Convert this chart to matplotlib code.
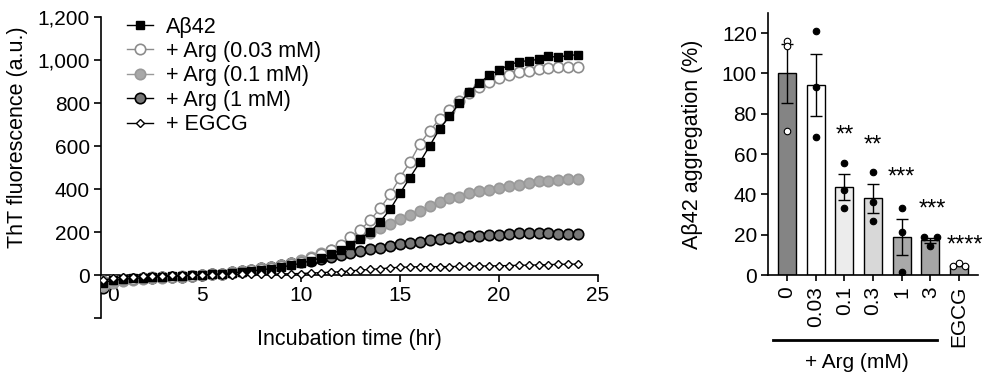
import numpy as np
import matplotlib
matplotlib.use("Agg")
import matplotlib.pyplot as plt
import matplotlib.transforms as mtransforms

plt.rcParams["font.family"] = ["Liberation Sans", "DejaVu Sans"]

# ---- kinetics data (ThT fluorescence, a.u.), every 0.5 hr ----
time_hr = np.arange(0, 24.5, 0.5)

abeta42 = [-35, -25, -20, -16, -13, -10, -8, -6, -4, -2, 0, 3, 6, 10, 14, 19, 24, 30, 37, 45,
           55, 66, 80, 96, 116, 140, 168, 201, 248, 305, 380, 453, 524, 601, 679, 739, 798,
           852, 891, 930, 953, 977, 992, 997, 1003, 1018, 1012, 1023, 1023]
arg_003 = [-30, -25, -20, -17, -14, -11, -9, -7, -5, -3, 0, 3, 7, 11, 16, 21, 27, 34, 42, 51,
           62, 78, 98, 116, 140, 175, 209, 256, 310, 375, 453, 524, 609, 670, 725, 767, 809,
           845, 873, 899, 918, 930, 942, 950, 958, 964, 966, 966, 966]
arg_01 = [-50, -38, -30, -25, -20, -16, -13, -10, -7, -4, 0, 3, 7, 13, 18, 24, 31, 38, 46, 56,
          68, 85, 101, 116, 132, 155, 175, 194, 217, 237, 259, 279, 299, 321, 341, 357, 364,
          380, 391, 395, 406, 414, 419, 429, 437, 437, 442, 445, 445]
arg_1 = [-60, -31, -23, -19, -16, -12, -11, -8, -8, -5, 0, 3, 6, 14, 19, 23, 31, 36, 45, 54,
         60, 67, 75, 84, 93, 102, 113, 119, 127, 136, 143, 147, 155, 163, 167, 174, 175, 181,
         183, 186, 186, 189, 194, 194, 194, 194, 191, 191, 191]
egcg = [-25, -15, -10, -7, -5, -4, -3, -2, -2, -1, 0, 1, 2, 2, 3, 3, 4, 4, 5, 6, 7, 9, 11, 13,
        15, 19, 23, 26, 29, 33, 36, 37, 39, 39, 39, 39, 40, 41, 42, 42, 43, 44, 45, 46, 47, 48,
        50, 50, 51]

# ---- aggregation bar data (%) ----
groups = ["0", "0.03", "0.1", "0.3", "1", "3", "EGCG"]
agg_mean = [100, 94.3, 43.6, 38.0, 18.9, 17.3, 5.1]
agg_sem = [14.5, 15.2, 6.5, 7.2, 9.0, 1.3, 0.5]
agg_points = [[116, 113.7, 71.4], [121, 93.4, 68.4], [55.4, 42.3, 33.2], [51.1, 36.2, 26.8],
              [33.4, 21.5, 1.7], [18.7, 14.4, 18.7], [4.7, 5.9, 4.7]]
point_jitter = [0.0, 0.0, 0.0, 0.0, 0.0, 0.22, 0.22]
stars = ["", "", "**", "**", "***", "***", "****"]
star_y = [0, 0, 69, 64, 48.5, 32.5, 14.5]
star_dx = [0, 0, 0, 0, 0, 0.07, 0.2]

bar_colors = ["#848484", "#ffffff", "#ececec", "#d8d8d8", "#a9a9a9", "#a6a6a6", "#9a9a9a"]
dot_colors = ["white", "black", "black", "black", "black", "black", "white"]

fig = plt.figure(figsize=(10, 3.82), dpi=100)

# ---------- left panel ----------
ax = fig.add_axes([0.101, 0.1675, 0.497, 0.788])
ax.plot(time_hr, arg_1, "-o", color="black", mfc="#777777", mec="black", ms=7.5, mew=1.2,
        lw=1, label="+ Arg (1 mM)", zorder=3)
ax.plot(time_hr, arg_01, "-o", color="#999999", mfc="#a8a8a8", mec="#999999", ms=7.5, mew=1.2,
        lw=1, label="+ Arg (0.1 mM)", zorder=4)
ax.plot(time_hr, arg_003, "-o", color="#8c8c8c", mfc="white", mec="#8c8c8c", ms=7.5, mew=1.2,
        lw=1, label="+ Arg (0.03 mM)", zorder=5)
ax.plot(time_hr, abeta42, "-s", color="black", mfc="black", mec="black", ms=5.5,
        lw=1, label="Aβ42", zorder=6)
ax.plot(time_hr, egcg, "-D", color="black", mfc="white", mec="black", ms=4.5, mew=1,
        lw=1, label="+ EGCG", zorder=7)

ax.set_xlim(-0.1, 25)
ax.set_ylim(-200, 1200)
ax.set_xticks([0, 5, 10, 15, 20, 25])
ax.set_yticks([-200, 0, 200, 400, 600, 800, 1000, 1200])
ax.set_yticklabels(["", "0", "200", "400", "600", "800", "1,000", "1,200"])
ax.spines["bottom"].set_position(("data", 0))
ax.spines["top"].set_visible(False)
ax.spines["right"].set_visible(False)
for s in ("left", "bottom"):
    ax.spines[s].set_linewidth(1.2)
ax.tick_params(labelsize=15, width=1.2, length=5, pad=3)
lbl0 = ax.get_xticklabels()[0]
lbl0.set_transform(lbl0.get_transform() + mtransforms.ScaledTranslation(0.1, 0, fig.dpi_scale_trans))

ax.set_xlabel("Incubation time (hr)", fontsize=15.5)
ax.xaxis.set_label_coords(0.5, -0.035)
ax.set_ylabel("ThT fluorescence (a.u.)", fontsize=15.5)
ax.yaxis.set_label_coords(-0.147, 0.6)

handles, labels = ax.get_legend_handles_labels()
order = [3, 2, 1, 0, 4]
ax.legend([handles[i] for i in order], [labels[i] for i in order], loc="upper left",
          bbox_to_anchor=(0.035, 1.03), frameon=False, fontsize=15.5, handlelength=1.2,
          handletextpad=0.6, labelspacing=0.16, borderaxespad=0)

# ---------- right panel ----------
bx = fig.add_axes([0.768, 0.280, 0.21, 0.686])
x = np.arange(len(groups))
bx.bar(x, agg_mean, width=0.63, color=bar_colors, edgecolor="black", linewidth=1, zorder=2)
bx.errorbar(x, agg_mean, yerr=agg_sem, fmt="none", ecolor="black", elinewidth=1,
            capsize=4, capthick=1, zorder=3)
for i, pts in enumerate(agg_points):
    offs = np.array([-1, 0, 1]) * point_jitter[i]
    bx.scatter(x[i] + offs, pts, s=22, color=dot_colors[i], edgecolor="black",
               linewidth=0.8, zorder=4)
for i, st in enumerate(stars):
    if st:
        bx.text(x[i] + star_dx[i], star_y[i], st, ha="center", va="center", fontsize=17)

bx.set_xlim(-0.66, 6.66)
bx.set_ylim(0, 130)
bx.set_yticks([0, 20, 40, 60, 80, 100, 120])
bx.set_xticks(x)
bx.set_xticklabels(groups, rotation=90, va="top")
bx.spines["top"].set_visible(False)
bx.spines["right"].set_visible(False)
for s in ("left", "bottom"):
    bx.spines[s].set_linewidth(1.2)
bx.tick_params(labelsize=15, width=1.2, length=5, pad=3)
bx.tick_params(axis="x", length=4, pad=4)
bx.set_ylabel("Aβ42 aggregation (%)", fontsize=15.5)
bx.yaxis.set_label_coords(-0.31, 0.5)

# bracket for + Arg (mM)
fig.add_artist(plt.Line2D([0.773, 0.937], [1 - 340 / 382, 1 - 340 / 382], color="black", lw=2))
fig.text(0.857, 1 - 362 / 382, "+ Arg (mM)", ha="center", va="center", fontsize=15)

fig.savefig("out.png", dpi=100)
